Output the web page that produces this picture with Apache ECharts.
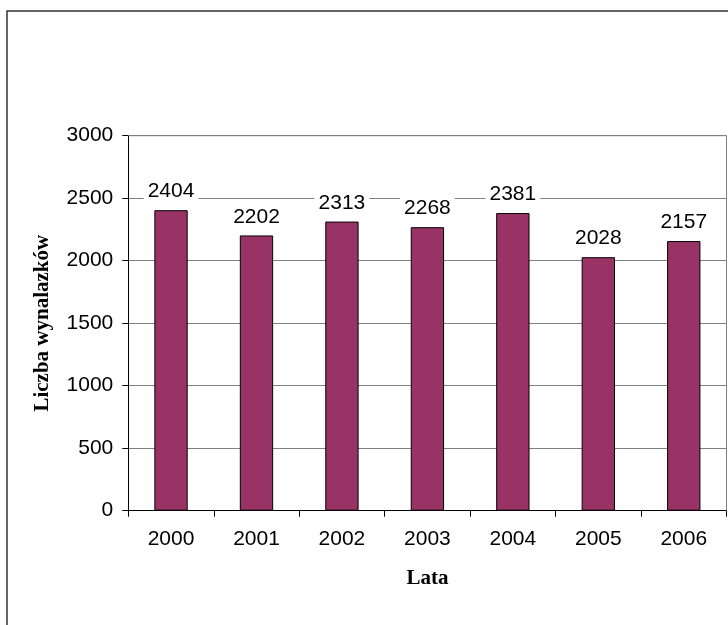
<!DOCTYPE html>
<html>
<head>
<meta charset="utf-8">
<script src="https://cdn.jsdelivr.net/npm/echarts@6/dist/echarts.min.js"></script>
<style>
html,body{margin:0;padding:0;background:#fff;}
#c{width:728px;height:625px;}
</style>
</head>
<body>
<div id="c"></div>
<script>
var categories = ['2000', '2001', '2002', '2003', '2004', '2005', '2006'];
var values = [2404, 2202, 2313, 2268, 2381, 2028, 2157];
var yTicks = [0, 500, 1000, 1500, 2000, 2500, 3000];

var chart = echarts.init(document.getElementById('c'), null, {renderer: 'canvas'});
var sans = 'Liberation Sans, Arial, sans-serif';
var serif = 'Liberation Serif, Times New Roman, serif';
chart.setOption({
  animation: false,
  backgroundColor: '#fff',
  graphic: [{
    type: 'rect',
    shape: {x: 7, y: 11, width: 740, height: 640},
    style: {fill: 'none', stroke: '#333', lineWidth: 1.5},
    silent: true,
    z: 100
  }, {
    type: 'line',
    shape: {x1: 128.3, y1: 135.7, x2: 726.5, y2: 135.7},
    style: {stroke: '#808080', lineWidth: 1},
    z: 1
  }, {
    type: 'line',
    shape: {x1: 726.5, y1: 135.7, x2: 726.5, y2: 510.7},
    style: {stroke: '#808080', lineWidth: 1},
    z: 1
  }],
  grid: {left: 128.3, right: 1.5, top: 135.7, bottom: 114.3, containLabel: false},
  xAxis: {
    type: 'category',
    data: categories,
    name: 'Lata',
    nameLocation: 'middle',
    nameGap: 57,
    nameTextStyle: {fontFamily: serif, fontWeight: 'bold', fontSize: 21, color: '#000'},
    axisLine: {lineStyle: {color: '#000', width: 1}},
    axisTick: {show: true, length: 6, lineStyle: {color: '#000'}},
    axisLabel: {fontFamily: sans, fontSize: 21, color: '#000', margin: 18},
    splitLine: {show: false}
  },
  yAxis: {
    type: 'value',
    min: yTicks[0],
    max: yTicks[yTicks.length - 1],
    interval: yTicks[1] - yTicks[0],
    name: 'Liczba wynalazków',
    nameLocation: 'middle',
    nameGap: 75,
    nameTextStyle: {fontFamily: serif, fontWeight: 'bold', fontSize: 21, color: '#000'},
    axisLine: {show: true, lineStyle: {color: '#000', width: 1}},
    axisTick: {show: true, length: 6, lineStyle: {color: '#000'}},
    axisLabel: {fontFamily: sans, fontSize: 21, color: '#000', margin: 15, formatter: function (v) { return String(v); }},
    splitLine: {show: true, lineStyle: {color: '#808080', width: 1}}
  },
  series: [{
    type: 'bar',
    data: values,
    barWidth: '39%',
    itemStyle: {color: '#993366', borderColor: '#000', borderWidth: 1},
    label: {
      show: true,
      position: 'top',
      distance: 6,
      fontFamily: sans,
      fontSize: 21,
      color: '#000',
      backgroundColor: '#fff',
      padding: [2, 4]
    }
  }]
});
</script>
</body>
</html>
